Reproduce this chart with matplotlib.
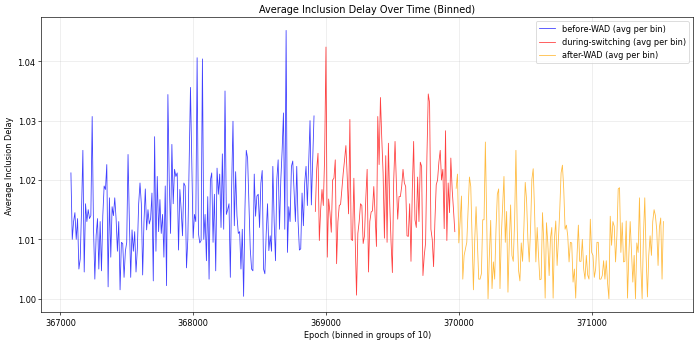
import matplotlib
matplotlib.use("Agg")
import matplotlib.pyplot as plt
import numpy as np

# Binned average inclusion delay (groups of 10 epochs)
bin_size = 10
first_epoch = 367080

before_wad = [
    1.0212, 1.0100, 1.0130, 1.0145, 1.0100, 1.0135, 1.0050, 1.0067, 1.0150, 1.0250,
    1.0045, 1.0160, 1.0130, 1.0150, 1.0135, 1.0140, 1.0307, 1.0118, 1.0033, 1.0107,
    1.0135, 1.0050, 1.0130, 1.0047, 1.0140, 1.0190, 1.0184, 1.0226, 1.0020, 1.0170,
    1.0070, 1.0155, 1.0140, 1.0170, 1.0135, 1.0080, 1.0130, 1.0015, 1.0095, 1.0093,
    1.0036, 1.0080, 1.0095, 1.0243, 1.0130, 1.0036, 1.0116, 1.0080, 1.0113, 1.0045,
    1.0084, 1.0160,
    1.0195, 1.0160, 1.0040, 1.0130, 1.0185, 1.0116, 1.0150, 1.0126, 1.0135, 1.0178,
    1.0030, 1.0273, 1.0080, 1.0206, 1.0113, 1.0167, 1.0110, 1.0142, 1.0070, 1.0190,
    1.0022, 1.0344, 1.0200, 1.0110, 1.0260, 1.0160, 1.0218, 1.0206, 1.0212, 1.0082,
    1.0184, 1.0150, 1.0106, 1.0195, 1.0190, 1.0052, 1.0100, 1.0230, 1.0356, 1.0229,
    1.0102, 1.0142, 1.0130, 1.0406, 1.0110, 1.0094, 1.0098, 1.0404, 1.0100, 1.0142,
    1.0064, 1.0172, 1.0033,
    1.0200, 1.0212, 1.0095, 1.0176, 1.0047, 1.0220, 1.0176, 1.0210, 1.0120, 1.0244,
    1.0117, 1.0350, 1.0142, 1.0150, 1.0160, 1.0036, 1.0190, 1.0299, 1.0123, 1.0214,
    1.0140, 1.0110, 1.0113, 1.0050, 1.0117, 1.0004, 1.0150, 1.0250, 1.0237, 1.0160,
    1.0084, 1.0050, 1.0047, 1.0210, 1.0139, 1.0173, 1.0176, 1.0120, 1.0195, 1.0216,
    1.0050, 1.0042, 1.0110, 1.0160, 1.0081, 1.0106, 1.0080, 1.0223, 1.0130, 1.0064,
    1.0201, 1.0234, 1.0117, 1.0200, 1.0250, 1.0313, 1.0117, 1.0452, 1.0078,
    1.0155, 1.0130, 1.0223, 1.0232, 1.0180, 1.0130, 1.0223, 1.0130, 1.0082, 1.0084,
    1.0178, 1.0123, 1.0195, 1.0223, 1.0157, 1.0230, 1.0300, 1.0158, 1.0230, 1.0308,
]

during_switching = [
    1.0147, 1.0218, 1.0245, 1.0098, 1.0150, 1.0184, 1.0157, 1.0240, 1.0424, 1.0070,
    1.0168, 1.0145, 1.0112, 1.0200, 1.0203, 1.0234, 1.0059, 1.0130, 1.0157, 1.0159,
    1.0185, 1.0212, 1.0234, 1.0258, 1.0205, 1.0143, 1.0302, 1.0100, 1.0098, 1.0203,
    1.0100, 1.0006, 1.0110, 1.0130, 1.0160, 1.0157, 1.0093,
    1.0106, 1.0170, 1.0218, 1.0045, 1.0130, 1.0146, 1.0148, 1.0189, 1.0140, 1.0088,
    1.0307, 1.0226, 1.0339, 1.0270, 1.0212, 1.0102, 1.0241, 1.0095, 1.0262, 1.0160,
    1.0095, 1.0044, 1.0200, 1.0265, 1.0195, 1.0134, 1.0172, 1.0172, 1.0189, 1.0218,
    1.0195, 1.0189, 1.0106, 1.0105, 1.0160, 1.0063, 1.0184, 1.0265, 1.0133, 1.0120,
    1.0205, 1.0130, 1.0230, 1.0223, 1.0039, 1.0073, 1.0094, 1.0240, 1.0345, 1.0330,
    1.0117, 1.0100, 1.0054, 1.0130, 1.0192, 1.0200, 1.0230,
    1.0250, 1.0200, 1.0218, 1.0118, 1.0283, 1.0098, 1.0195, 1.0145, 1.0237, 1.0184,
    1.0150, 1.0113,
]

after_wad = [
    1.0186, 1.0210, 1.0094, 1.0130, 1.0173, 1.0033, 1.0073, 1.0084, 1.0095, 1.0150,
    1.0205, 1.0189, 1.0100, 1.0015, 1.0100, 1.0155, 1.0095, 1.0033, 1.0033, 1.0042,
    1.0133, 1.0133, 1.0264, 1.0130, 1.0000, 1.0073, 1.0132, 1.0017, 1.0062, 1.0033,
    1.0117, 1.0176, 1.0185, 1.0017, 1.0106, 1.0157, 1.0206, 1.0095, 1.0147, 1.0011,
    1.0095, 1.0158, 1.0073, 1.0063, 1.0130, 1.0250,
    1.0117, 1.0047, 1.0030, 1.0094, 1.0063, 1.0120, 1.0196, 1.0167, 1.0100, 1.0062,
    1.0117, 1.0201, 1.0219, 1.0150, 1.0062, 1.0120, 1.0073, 1.0032, 1.0033, 1.0145,
    1.0094, 1.0001, 1.0128, 1.0094, 1.0039, 1.0102, 1.0120, 1.0001, 1.0102, 1.0131,
    1.0056, 1.0100, 1.0150, 1.0212, 1.0225, 1.0184, 1.0117, 1.0124, 1.0106, 1.0062,
    1.0095, 1.0094, 1.0028, 1.0050, 1.0001, 1.0073, 1.0124, 1.0063, 1.0063, 1.0100,
    1.0050, 1.0033, 1.0073, 1.0040, 1.0033, 1.0134, 1.0078,
    1.0073, 1.0036, 1.0050, 1.0095, 1.0095, 1.0033, 1.0033, 1.0039, 1.0064, 1.0033,
    1.0064, 1.0026, 1.0000, 1.0139, 1.0090, 1.0130, 1.0122, 1.0062, 1.0106, 1.0185,
    1.0187, 1.0078, 1.0128, 1.0062, 1.0063, 1.0131, 1.0001, 1.0073, 1.0130, 1.0078,
    1.0028, 1.0073, 1.0000, 1.0094, 1.0078, 1.0170, 1.0056, 1.0000, 1.0106, 1.0170,
    1.0073, 1.0003, 1.0073, 1.0106, 1.0073, 1.0130, 1.0150, 1.0140, 1.0116, 1.0056,
    1.0120, 1.0136, 1.0033, 1.0130,
]

phases = [
    ("before-WAD (avg per bin)", before_wad, "blue"),
    ("during-switching (avg per bin)", during_switching, "red"),
    ("after-WAD (avg per bin)", after_wad, "orange"),
]

fig, ax = plt.subplots(figsize=(12, 5.931), dpi=700 / 12)

start = first_epoch
for label, vals, color in phases:
    epochs = start + bin_size * np.arange(len(vals))
    ax.plot(epochs, vals, color=color, alpha=0.75, linewidth=1, label=label)
    start = epochs[-1] + bin_size

ax.set_title("Average Inclusion Delay Over Time (Binned)", fontsize=12)
ax.set_xlabel("Epoch (binned in groups of 10)", fontsize=10)
ax.set_ylabel("Average Inclusion Delay", fontsize=10)
ax.grid(True, alpha=0.3)
ax.legend(loc="upper right", fontsize=10)

plt.subplots_adjust(left=0.059, right=0.99, top=0.948, bottom=0.095)
plt.savefig("out.png")
